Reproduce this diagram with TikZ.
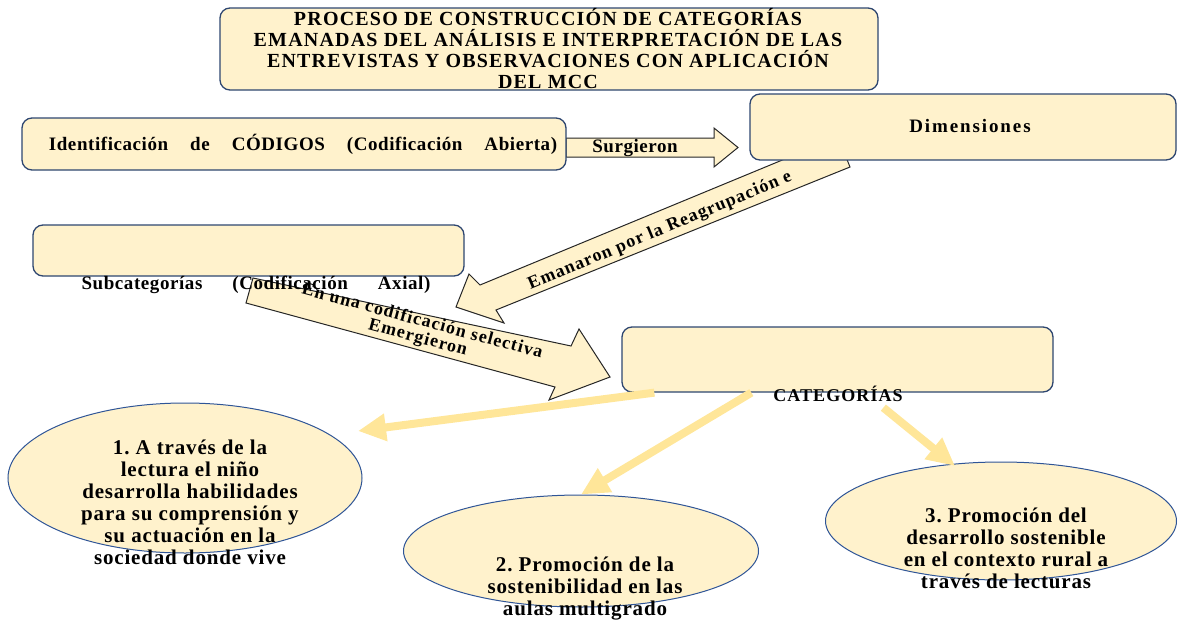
\documentclass[tikz,border=0pt]{standalone}
\usepackage{fontspec}
\setmainfont{Liberation Serif}
\usetikzlibrary{shapes.geometric,arrows.meta}

\definecolor{crema}{HTML}{FFF2CC}
\definecolor{azulborde}{HTML}{2E4670}
\definecolor{azulelipse}{HTML}{2F5597}
\definecolor{amarillo}{HTML}{FFE699}
\definecolor{grisflecha}{HTML}{262626}

\tikzset{
  caja/.style={draw=azulborde, fill=crema, line width=1.3pt, rounded corners=10pt, inner sep=0pt},
  elipse/.style={ellipse, draw=azulelipse, fill=crema, line width=1pt, inner sep=0pt},
  flecha/.style={draw=grisflecha, fill=crema, line width=1pt, line join=miter},
  conector/.style={draw=amarillo, line width=8pt, -{Triangle[length=28pt,width=26pt]}},
  titulo/.style={font=\fontsize{20}{21}\selectfont\bfseries\addfontfeature{LetterSpace=6}, align=center},
  etiqueta/.style={font=\fontsize{19}{19}\selectfont\bfseries\addfontfeature{LetterSpace=3}, align=center},
  rotulo/.style={font=\fontsize{18}{17}\selectfont\bfseries\addfontfeature{LetterSpace=6}, align=center},
  texto/.style={font=\fontsize{21}{22}\selectfont\bfseries\addfontfeature{LetterSpace=4}, align=center},
}

\begin{document}
\begin{tikzpicture}[x=1pt,y=-1pt]
  \useasboundingbox (0,0) rectangle (1178,621);

  % flechas de bloque
  \draw[flecha] (566,138) -- (714,138) -- (714,128) -- (738,147.5) -- (714,167) -- (714,157) -- (566,157) -- cycle;
  \draw[flecha] (838,137) -- (480,285) -- (469,274) -- (456,307) -- (504,323) -- (496,310) -- (850,167) -- cycle;
  \draw[flecha] (253,278) -- (571,346) -- (579,329) -- (610,377) -- (549,400) -- (555,387) -- (246,303) -- cycle;

  % cajas
  \node[caja, minimum width=658pt, minimum height=82pt] (titulo) at (549,49) {};
  \node[caja, minimum width=544pt, minimum height=52pt] (codigos) at (294,144) {};
  \node[caja, minimum width=426pt, minimum height=66pt] (dimensiones) at (963,127) {};
  \node[caja, minimum width=431pt, minimum height=51pt] (subcat) at (248.5,250.5) {};
  \node[caja, minimum width=431pt, minimum height=65pt] (categ) at (837.5,359.5) {};

  % elipses
  \node[elipse, minimum width=354pt, minimum height=150pt] (e1) at (185,478) {};
  \node[elipse, minimum width=355pt, minimum height=112pt] (e2) at (581,551) {};
  \node[elipse, minimum width=351pt, minimum height=118pt] (e3) at (1001,521) {};

  % textos
  \node[titulo] (tit) at (548,49) {PROCESO DE CONSTRUCCIÓN DE CATEGORÍAS\\
    EMANADAS DEL ANÁLISIS E INTERPRETACIÓN DE LAS\\
    ENTREVISTAS Y OBSERVACIONES CON APLICACIÓN\\
    DEL MCC};
  \node[etiqueta] (tcod) at (303,144) {Identificación\hspace{22pt}de\hspace{22pt}CÓDIGOS\hspace{22pt}(Codificación\hspace{22pt}Abierta)};
  \node[etiqueta] (surg) at (635,148) {Surgieron};
  \node[etiqueta, font=\fontsize{19}{19}\selectfont\bfseries\addfontfeature{LetterSpace=10}] (tdim) at (970,126) {Dimensiones};
  \node[etiqueta] (tsub) at (256,285) {Subcategorías\hspace{30pt}(Codificación\hspace{30pt}Axial)};
  \node[rotulo] (tcat) at (838,394) {CATEGORÍAS};
  \node[rotulo, rotate=22.6] (eman) at (660,231) {Emanaron por la Reagrupación e};
  \node[rotulo, rotate=-15] (sel) at (420,330) {En una codificación selectiva\\Emergieron};

  \node[texto] (t1) at (190,502) {1.\ A través de la\\ lectura el niño\\ desarrolla habilidades\\ para su comprensión y\\ su actuación en la\\ sociedad donde vive};
  \node[texto] (t2) at (585,589) {2.\ Promoción de la\\ sostenibilidad en las\\ aulas multigrado};
  \node[texto] (t3) at (1006,548) {3.\ Promoción del\\ desarrollo sostenible\\ en el contexto rural a\\ través de lecturas};

  % conectores
  \coordinate (p1) at (358,431);
  \coordinate (p3) at (955,466);
  \draw[conector] ([xshift=33pt]categ.south west) -- (p1);
  \draw[conector] ([xshift=130pt]categ.south west) -- (e2.north);
  \draw[conector] ([xshift=262pt,yshift=-15pt]categ.south west) -- (p3);
\end{tikzpicture}
\end{document}
